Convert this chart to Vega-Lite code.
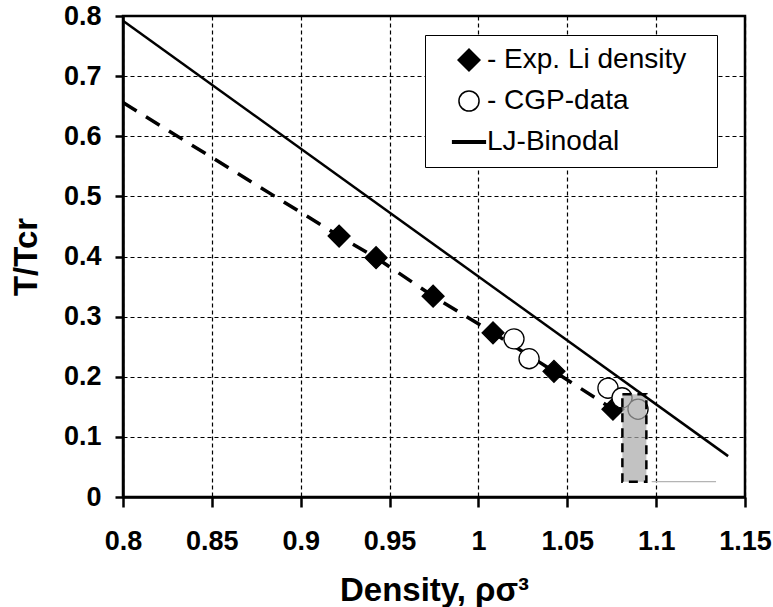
{
  "$schema": "https://vega.github.io/schema/vega-lite/v6.json",
  "width": 622,
  "height": 481,
  "autosize": {"type": "none"},
  "padding": {"left": 123, "top": 16, "right": 28, "bottom": 110},
  "background": "white",
  "config": {
    "font": "Liberation Sans",
    "view": {"stroke": "black", "strokeWidth": 2.5},
    "axis": {
      "grid": true,
      "gridDash": [4, 3],
      "gridColor": "black",
      "gridWidth": 1.2,
      "gridOpacity": 1,
      "domain": true,
      "domainColor": "black",
      "domainWidth": 2.5,
      "tickColor": "black",
      "tickWidth": 2.5,
      "labelFont": "Liberation Sans",
      "labelFontSize": 27,
      "labelFontWeight": "bold",
      "labelColor": "black",
      "labelFlush": false,
      "labelOverlap": false,
      "titleFont": "Liberation Sans",
      "titleFontSize": 33,
      "titleFontWeight": "bold",
      "titleColor": "black"
    },
    "legend": {
      "orient": "none",
      "legendX": 302,
      "legendY": 19,
      "strokeColor": "black",
      "fillColor": "white",
      "padding": 11,
      "symbolOffset": 19,
      "rowPadding": 13,
      "labelFont": "Liberation Sans",
      "labelFontSize": 28,
      "labelColor": "black",
      "labelOffset": 4,
      "labelLimit": 400,
      "titleOrient": "right",
      "titlePadding": 20,
      "titleFontSize": 8
    }
  },
  "datasets": {
    "points": [
      {"x": 0.9216, "y": 0.434, "series": "- Exp. Li density"},
      {"x": 0.9424, "y": 0.398, "series": "- Exp. Li density"},
      {"x": 0.9745, "y": 0.334, "series": "- Exp. Li density"},
      {"x": 1.0082, "y": 0.273, "series": "- Exp. Li density"},
      {"x": 1.0425, "y": 0.209, "series": "- Exp. Li density"},
      {"x": 1.0757, "y": 0.146, "series": "- Exp. Li density"},
      {"x": 1.0200, "y": 0.263, "series": "- CGP-data"},
      {"x": 1.0285, "y": 0.230, "series": "- CGP-data"},
      {"x": 1.0729, "y": 0.181, "series": "- CGP-data"},
      {"x": 1.0808, "y": 0.165, "series": "- CGP-data"},
      {"x": 1.0898, "y": 0.146, "series": "- CGP-data"}
    ],
    "binodal": [
      {"x": 0.8, "y": 0.792},
      {"x": 1.1405, "y": 0.068}
    ],
    "dashed": [
      {"x": 0.8, "y": 0.656},
      {"x": 0.9216, "y": 0.434},
      {"x": 0.9424, "y": 0.398},
      {"x": 0.9745, "y": 0.334},
      {"x": 1.0082, "y": 0.273},
      {"x": 1.0425, "y": 0.209},
      {"x": 1.0757, "y": 0.146}
    ],
    "box": [
      {"x": 1.081, "x2": 1.0945, "y": 0.171, "y2": 0.0255}
    ],
    "baseline": [
      {"x": 1.0975, "x2": 1.1337, "y": 0.0255}
    ]
  },
  "encoding": {
    "x": {
      "field": "x",
      "type": "quantitative",
      "scale": {"domain": [0.8, 1.15], "nice": false, "zero": false},
      "axis": {
        "title": "Density, ρσ³",
        "values": [0.8, 0.85, 0.9, 0.95, 1.0, 1.05, 1.1, 1.15],
        "format": "~g",
        "tickSize": 10,
        "labelPadding": 21,
        "titlePadding": 20
      }
    },
    "y": {
      "field": "y",
      "type": "quantitative",
      "scale": {"domain": [0, 0.8], "nice": false},
      "axis": {
        "title": "T/Tcr",
        "values": [0, 0.1, 0.2, 0.3, 0.4, 0.5, 0.6, 0.7, 0.8],
        "format": "~g",
        "tickSize": 8,
        "labelPadding": 14,
        "titlePadding": 20
      }
    }
  },
  "layer": [
    {
      "data": {"name": "dashed"},
      "mark": {"type": "line", "color": "black", "strokeWidth": 3.5, "strokeDash": [16, 11]},
      "encoding": {}
    },
    {
      "data": {"name": "points"},
      "mark": {"type": "point", "filled": true, "stroke": "black", "strokeWidth": 1.3, "opacity": 1},
      "encoding": {
        "shape": {
          "field": "series", "type": "nominal", "title": " ",
          "scale": {"domain": ["- Exp. Li density", "- CGP-data", "LJ-Binodal"], "range": ["diamond", "circle", "M-1.8,-0.14H1.8V0.14H-1.8Z"]}
        },
        "fill": {
          "field": "series", "type": "nominal", "title": " ",
          "scale": {"domain": ["- Exp. Li density", "- CGP-data", "LJ-Binodal"], "range": ["black", "white", "black"]}
        },
        "size": {
          "field": "series", "type": "nominal", "title": " ",
          "scale": {"domain": ["- Exp. Li density", "- CGP-data", "LJ-Binodal"], "range": [480, 330, 330]}
        }
      }
    },
    {
      "data": {"name": "box"},
      "mark": {"type": "rect", "fill": "#a8a8a8", "fillOpacity": 0.7, "stroke": "black", "strokeWidth": 2.5, "strokeDash": [9, 6]},
      "encoding": {
        "x2": {"field": "x2"},
        "y2": {"field": "y2"}
      }
    },
    {
      "data": {"name": "baseline"},
      "mark": {"type": "rule", "color": "#b4b4b4", "strokeWidth": 1.2},
      "encoding": {
        "x2": {"field": "x2"}
      }
    },
    {
      "data": {"name": "binodal"},
      "mark": {"type": "line", "color": "black", "strokeWidth": 2.5},
      "encoding": {}
    }
  ]
}
